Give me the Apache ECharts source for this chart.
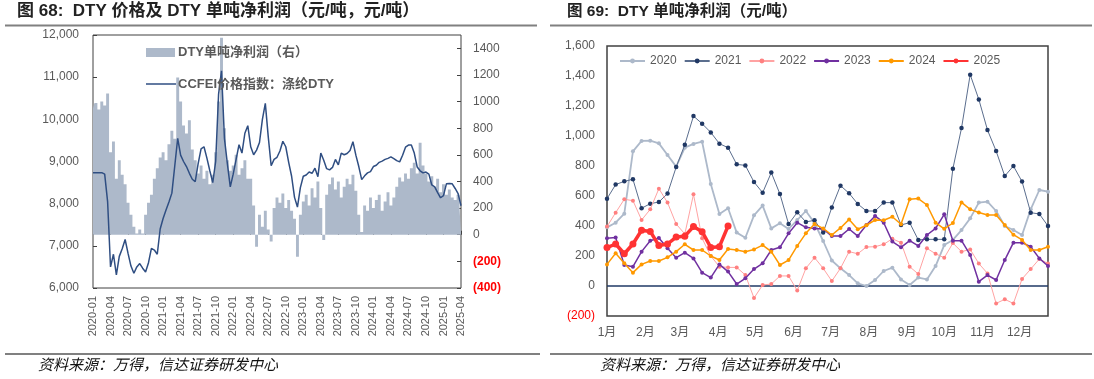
<!DOCTYPE html>
<html><head><meta charset="utf-8">
<script src="https://cdn.jsdelivr.net/npm/echarts@6/dist/echarts.min.js"></script>
<style>html,body{margin:0;padding:0;background:#fff;}#c{width:1094px;height:379px;}</style>
</head><body><div id="c"></div>
<script>
// ---------- Left chart data (half-monthly from 2020-01) ----------
const startYear = 2020;
const dtyPrice = [8735,8735,8735,8735,8700,8050,6500,6800,6310,6750,6930,7150,6820,6520,6350,6500,6580,6470,6380,6600,
6940,6900,6800,7400,7650,7850,8040,8250,8900,9550,9150,9000,8880,8720,8580,8520,8950,9300,9350,9080,
8780,8500,9000,10600,11150,9550,8950,8400,8700,9050,9400,9200,9670,9850,9350,9160,9270,9450,10000,10380,
9590,8900,9050,9100,9250,9480,9350,8980,8650,8150,7920,8380,8650,8680,8750,8720,8840,8640,9200,9030,
8830,8800,8860,9050,8920,9200,9160,9190,9260,9470,9150,8880,8570,8660,8730,8760,8880,8910,8980,9010,
9050,9075,9110,9070,9020,8990,9150,9340,9390,9390,9200,8870,8780,8730,8750,8700,8443,8400,8260,8140,
8190,8470,8480,8470,8360,8240,7950];
const dtyProfit = [950,990,940,1000,970,1060,620,700,420,560,450,380,240,150,60,10,40,10,150,240,
300,420,500,580,620,560,680,780,720,1180,1000,820,760,860,640,560,460,520,420,480,
380,450,620,1000,1480,800,560,480,520,600,450,500,560,420,420,220,-90,150,60,180,
40,-50,200,280,240,310,200,260,180,120,-165,150,250,300,220,350,280,400,200,-40,
300,380,430,340,400,280,360,420,380,450,330,150,20,220,180,280,200,260,300,180,
250,320,220,280,360,430,400,460,420,500,540,460,690,520,460,400,440,360,420,320,
380,300,340,280,260,300,200];
const leftNames = ['DTY单吨净利润（右）', 'CCFEI价格指数：涤纶DTY'];

// ---------- Right chart data (weekly) ----------
const years = ['2020','2021','2022','2023','2024','2025'];
const p2020 = [391,422,482,898,967,969,951,873,796,922,947,962,680,480,518,356,322,471,536,384,418,380,440,500,420,300,170,118,73,18,0,40,100,122,44,7,56,44,133,273,307,373,451,556,562,500,400,373,340,511,640,629];
const p2021 = [582,676,698,711,518,549,560,616,793,942,1133,1082,1024,949,922,811,804,693,622,756,613,413,491,427,438,356,524,669,618,547,500,500,556,556,407,422,307,311,311,311,782,1053,1409,1244,1040,900,733,800,696,489,480,400];
const p2022 = [396,489,578,569,440,511,649,556,413,347,611,318,200,129,124,124,73,-80,7,13,67,67,-30,118,189,118,33,118,229,215,260,262,278,315,289,129,80,251,215,188,286,229,244,150,84,-116,-89,-116,47,113,180,150];
const p2023 = [318,324,140,129,229,302,320,251,189,222,184,89,56,144,96,13,51,113,151,240,258,351,422,391,384,380,333,333,380,333,407,467,422,296,258,302,267,340,384,478,302,302,207,29,73,40,173,289,289,262,184,133];
const p2024 = [144,218,151,89,144,167,167,191,229,278,240,240,200,173,247,240,229,244,273,229,140,173,267,351,413,384,340,387,444,378,405,440,438,462,412,578,583,540,422,381,420,557,511,490,473,473,407,342,307,240,240,262];
const p2025 = [256,280,215,280,372,364,270,280,326,332,396,362,257,262,400];
const monthNames = ['1月','2月','3月','4月','5月','6月','7月','8月','9月','10月','11月','12月'];
const monthStartDays = [0,31,59,90,120,151,181,212,243,273,304,334];

const FONT = "'Liberation Sans','Noto Sans CJK SC',sans-serif";
const GREY = '#595959';
const BAR_COLOR = '#ADB9CA';
const LINE_COLOR = '#2F4E82';
const chart = echarts.init(document.getElementById('c'));

const halfMonth = arr => arr.map((v,i)=>[i*0.5, v]);
const weekly = arr => arr.map((v,i)=>[i, v]);
const monthPos = monthStartDays.map(d => d/7);

const seriesStyle = {
  '2020': {line:'#ADB9CA', dot:'#ADB9CA', w:1.8, s:4},
  '2021': {line:'#5B6E8E', dot:'#203864', w:1, s:4.5},
  '2022': {line:'#FFA3A3', dot:'#FF8080', w:1, s:4},
  '2023': {line:'#7030A0', dot:'#7030A0', w:1.5, s:4},
  '2024': {line:'#FF9900', dot:'#FF9900', w:1.5, s:4},
  '2025': {line:'#FF3333', dot:'#FF3333', w:3.5, s:7}
};
const yearData = {'2020':p2020,'2021':p2021,'2022':p2022,'2023':p2023,'2024':p2024,'2025':p2025};

const rightSeries = years.map((y, k) => {
  const st = seriesStyle[y];
  const s = {
    name: y, type: 'line', xAxisIndex: 1, yAxisIndex: 2,
    data: weekly(yearData[y]),
    symbol: 'circle', symbolSize: st.s, showSymbol: true,
    lineStyle: {color: st.line, width: st.w},
    itemStyle: {color: st.dot},
    z: 3 + k
  };
  if (k === 0) {
    s.markLine = {silent: true, symbol: 'none', label: {show:false},
      lineStyle: {color:'#1F3864', width:1.5, type:'solid'}, data: [{yAxis: 0}], z: 2};
  }
  return s;
});

const negRich = {neg: {color:'#FF0000', fontSize:12, fontFamily: FONT}};
const negRichBold = {neg: {color:'#FF0000', fontSize:12, fontWeight:'bold', fontFamily: FONT}};

chart.setOption({
  animation: false,
  backgroundColor: '#fff',
  textStyle: {fontFamily: FONT},
  grid: [
    {left:93, top:35, width:368, height:253, show:true, borderColor:'#404040', borderWidth:1, backgroundColor:'transparent'},
    {left:607, top:46, width:441, height:270, show:true, borderColor:'#404040', borderWidth:1.5, backgroundColor:'transparent'}
  ],
  xAxis: [
    {gridIndex:0, type:'value', min:0, max:63, interval:3,
      axisLine:{show:false}, splitLine:{show:false},
      axisTick:{show:true, inside:true, length:4, lineStyle:{color:'#404040'}},
      axisLabel:{rotate:90, margin:8, fontSize:11, color:GREY, fontFamily:FONT,
        formatter: v => { const y = startYear + Math.floor(v/12); const m = Math.round(v%12)+1; return y + '-' + (m<10?'0':'') + m; }}},
    {gridIndex:1, type:'value', min:0, max:51,
      axisLine:{show:false}, splitLine:{show:false}, axisTick:{show:false},
      axisLabel:{customValues: monthPos, margin:11, fontSize:12, color:GREY, fontFamily:FONT,
        formatter: v => { let best=0; for (let i=0;i<monthPos.length;i++){ if (Math.abs(monthPos[i]-v) < Math.abs(monthPos[best]-v)) best=i; } return monthNames[best]; }}}
  ],
  yAxis: [
    {gridIndex:0, type:'value', position:'left', min:6000, max:12000, interval:1000,
      axisLine:{show:false}, splitLine:{show:false},
      axisTick:{show:true, inside:true, length:4, lineStyle:{color:'#404040'}},
      axisLabel:{margin:14, fontSize:12, color:GREY, fontFamily:FONT, formatter: v => v.toLocaleString('en-US')}},
    {gridIndex:0, type:'value', position:'right', min:-400, max:1500, interval:200,
      axisLine:{show:false}, splitLine:{show:false},
      axisTick:{show:true, inside:true, length:4, lineStyle:{color:'#404040'}},
      axisLabel:{margin:12, fontSize:12, color:GREY, fontFamily:FONT, showMaxLabel:false, rich: negRichBold,
        formatter: v => v < 0 ? '{neg|(' + (-v) + ')}' : String(v)}},
    {gridIndex:1, type:'value', min:-200, max:1600, interval:200,
      axisLine:{show:false}, splitLine:{show:false}, axisTick:{show:false},
      axisLabel:{margin:12, fontSize:12, color:GREY, fontFamily:FONT, rich: negRich,
        formatter: v => v < 0 ? '{neg|(' + (-v).toLocaleString('en-US') + ')}' : v.toLocaleString('en-US')}}
  ],
  legend: [
    {orient:'horizontal', left:614, top:50, itemWidth:25, itemHeight:6, itemGap:7,
      data: years, textStyle:{color:GREY, fontSize:12, fontFamily:FONT}}
  ],
  series: [
    {name:leftNames[0], type:'line', step:'middle', xAxisIndex:0, yAxisIndex:1, data: halfMonth(dtyProfit),
      symbol:'none', lineStyle:{width:0, color:BAR_COLOR}, areaStyle:{color:BAR_COLOR, opacity:1, origin:0},
      itemStyle:{color:BAR_COLOR}, z:1},
    {name:leftNames[1], type:'line', xAxisIndex:0, yAxisIndex:0, data: halfMonth(dtyPrice),
      symbol:'none', lineStyle:{color:LINE_COLOR, width:1.5}, itemStyle:{color:LINE_COLOR}, z:3}
  ].concat(rightSeries),
  graphic: [
    // left legend (drawn manually)
    {type:'rect', shape:{x:146, y:48, width:29, height:9}, style:{fill:BAR_COLOR}, z:10},
    {type:'text', x:178, y:52.5, style:{text:leftNames[0], font:'bold 13px ' + FONT, fill:GREY, textVerticalAlign:'middle'}, z:10},
    {type:'line', shape:{x1:146, y1:84, x2:176, y2:84}, style:{stroke:LINE_COLOR, lineWidth:1.5}, z:10},
    {type:'text', x:178, y:84, style:{text:leftNames[1], font:'bold 13px ' + FONT, fill:GREY, textVerticalAlign:'middle'}, z:10},
    // titles
    {type:'text', left:17, top:3, style:{text:'图 68:  DTY 价格及 DTY 单吨净利润（元/吨，元/吨）', font:'bold 17px ' + FONT, fill:'#222'}},
    {type:'text', left:567, top:4, style:{text:'图 69:  DTY 单吨净利润（元/吨）', font:'bold 15.5px ' + FONT, fill:'#222'}},
    {type:'line', shape:{x1:5, y1:25.5, x2:537, y2:25.5}, style:{stroke:'#808080', lineWidth:2}},
    {type:'line', shape:{x1:550, y1:25.5, x2:1092, y2:25.5}, style:{stroke:'#808080', lineWidth:2}},
    {type:'line', shape:{x1:5, y1:354, x2:540, y2:354}, style:{stroke:'#808080', lineWidth:2}},
    {type:'line', shape:{x1:550, y1:354, x2:1092, y2:354}, style:{stroke:'#808080', lineWidth:2}},
    {type:'text', left:38, top:358, style:{text:'资料来源：万得，信达证券研发中心', font:'italic 15px ' + FONT, fill:'#111'}},
    {type:'text', left:600, top:358, style:{text:'资料来源：万得，信达证券研发中心', font:'italic 15px ' + FONT, fill:'#111'}}
  ]
});
</script></body></html>
